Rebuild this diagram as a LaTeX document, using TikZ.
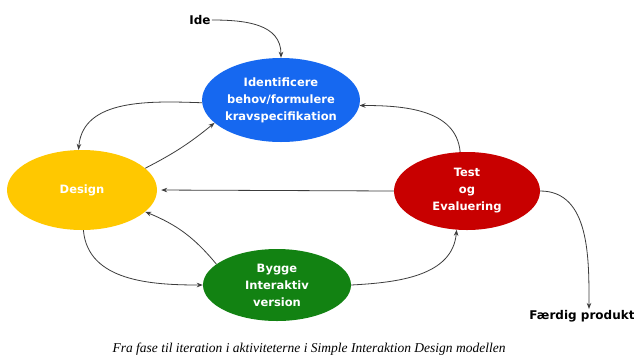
\documentclass[tikz,border=0pt]{standalone}
\usepackage{fontspec}
\setmainfont{DejaVu Sans}
\newfontfamily\capfont{Liberation Serif}
\usetikzlibrary{shapes.geometric,arrows.meta}
\definecolor{cblue}{RGB}{22,104,240}
\definecolor{cyellow}{RGB}{255,200,0}
\definecolor{cred}{RGB}{200,0,0}
\definecolor{cgreen}{RGB}{18,130,18}
\definecolor{cline}{RGB}{60,60,60}
\begin{document}
\begin{tikzpicture}[x=1pt,y=-1pt,
  phase/.style={ellipse,inner sep=0pt,text=white,align=center,
    font=\fontsize{11.5}{17}\selectfont\bfseries},
  lbl/.style={inner sep=1pt,font=\fontsize{12}{14}\selectfont\bfseries},
  arr/.style={draw=cline,line width=0.8pt,-{Stealth[length=6pt,width=4.5pt]}}]
\useasboundingbox[fill=white] (0,0) rectangle (634,357);
\node[phase,fill=cblue,minimum width=152pt,minimum height=84pt] (blue) at (281,100)
  {Identificere\\behov/formulere\\kravspecifikation};
\node[phase,fill=cyellow,minimum width=150pt,minimum height=80pt] (design) at (82,190) {Design};
\node[phase,fill=cred,minimum width=146pt,minimum height=78pt] (red) at (467,191)
  {Test\\og\\Evaluering};
\node[phase,fill=cgreen,minimum width=148pt,minimum height=72pt] (green) at (277,285)
  {Bygge\\Interaktiv\\version};
\node[lbl] (ide) at (200,20) {Ide};
\node[lbl] (fp) at (582,316) {Færdig produkt};
\node[inner sep=0pt,font=\capfont\itshape\fontsize{13.5}{15}\selectfont] (cap) at (309,349)
  {Fra fase til iteration i aktiviteterne i Simple Interaktion Design modellen};
\draw[arr] (ide.east) to[out=0,in=90,looseness=1.1] (blue.north);
\draw[arr] (blue.182) to[out=178,in=85] (design.95);
\draw[arr] (design.19) to[bend right=6] (blue.199);
\draw[arr] (red.100) to[out=95,in=0] (blue.-4);
\draw[arr,shorten >=4pt] (red.west) -- (design.east);
\draw[arr] (green.161) to[bend right=14] (design.-19);
\draw[arr] (design.-88) to[out=-85,in=180] (green.west);
\draw[arr] (green.east) to[out=3,in=-95] (red.-105);
\draw[arr] (red.east) to[out=0,in=90] ([xshift=7pt]fp.north);
\end{tikzpicture}
\end{document}
